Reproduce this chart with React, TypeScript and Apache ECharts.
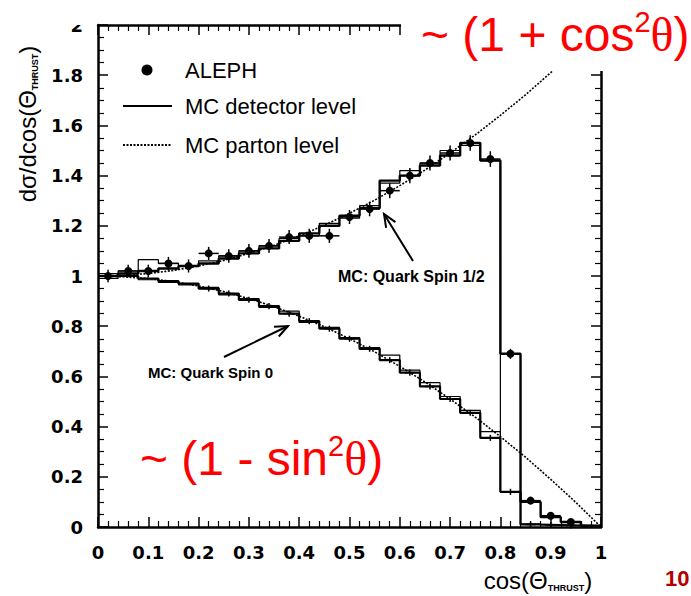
import React, { useEffect, useRef } from "react";
import * as echarts from "echarts";

// ---- data ----
const BIN_WIDTH = 0.04;

// MC detector level, quark spin 1/2 (thick step histogram), bins 0.00-0.04 ... 0.96-1.00
const UPPER_MC = [1.0, 1.01, 1.02, 1.03, 1.04, 1.05, 1.07, 1.09, 1.11, 1.14, 1.17, 1.2, 1.24, 1.27, 1.38, 1.4, 1.44, 1.48, 1.53, 1.46, 0.69, 0.1, 0.04, 0.02, 0.005];
// second (thin) spin 1/2 histogram
const UPPER_MC_THIN = [1.01, 1.02, 1.065, 1.05, 1.04, 1.06, 1.08, 1.1, 1.12, 1.15, 1.16, 1.21, 1.23, 1.28, 1.37, 1.42, 1.45, 1.5, 1.52, 1.46, 0.14, 0.012, 0.009, 0.006, 0.004];
// MC detector level, quark spin 0
const LOWER_MC = [1.0, 1.0, 0.99, 0.98, 0.97, 0.95, 0.93, 0.905, 0.88, 0.85, 0.82, 0.79, 0.75, 0.71, 0.665, 0.615, 0.56, 0.51, 0.455, 0.355, 0.14, 0.01, 0.008, 0.006, 0.004];
const LOWER_MC_THIN = [0.99, 1.0, 0.985, 0.975, 0.965, 0.955, 0.925, 0.91, 0.875, 0.86, 0.815, 0.795, 0.755, 0.715, 0.685, 0.625, 0.575, 0.52, 0.465, 0.38, 0.14, 0.012, 0.009, 0.006, 0.004];

// ALEPH data
const ALEPH_X = [0.02, 0.06, 0.1, 0.14, 0.18, 0.22, 0.26, 0.3, 0.34, 0.38, 0.42, 0.46, 0.5, 0.54, 0.58, 0.62, 0.66, 0.7, 0.74, 0.78, 0.82, 0.86, 0.9, 0.94];
const ALEPH_Y = [1.0, 1.02, 1.02, 1.05, 1.04, 1.09, 1.08, 1.1, 1.12, 1.155, 1.16, 1.16, 1.235, 1.267, 1.34, 1.4, 1.45, 1.49, 1.53, 1.466, 0.69, 0.105, 0.045, 0.02];
const ALEPH_ERR = [0.025, 0.025, 0.025, 0.026, 0.026, 0.026, 0.027, 0.027, 0.027, 0.028, 0.028, 0.028, 0.028, 0.029, 0.03, 0.03, 0.03, 0.03, 0.031, 0.031, 0.02, 0.012, 0.008, 0.006];

// MC spin 0 error crosses
const SPIN0_ERR = [0.012, 0.012, 0.012, 0.012, 0.012, 0.012, 0.012, 0.012, 0.012, 0.012, 0.012, 0.012, 0.012, 0.012, 0.012, 0.012, 0.012, 0.012, 0.012];

// MC parton level curves
const PARTON_X = [0, 0.05, 0.1, 0.15, 0.2, 0.25, 0.3, 0.35, 0.4, 0.45, 0.5, 0.55, 0.6, 0.65, 0.7, 0.75, 0.8, 0.85, 0.9, 0.95, 1.0];
const PARTON_SPIN_HALF = [1.0, 1.003, 1.01, 1.022, 1.04, 1.062, 1.09, 1.122, 1.16, 1.202, 1.25, 1.302, 1.36, 1.422, 1.49, 1.562, 1.64, 1.722, 1.81, 1.902, 2.0];
const PARTON_SPIN_ZERO = [1.0, 0.997, 0.99, 0.978, 0.96, 0.938, 0.91, 0.878, 0.84, 0.798, 0.75, 0.698, 0.64, 0.578, 0.51, 0.438, 0.36, 0.278, 0.19, 0.098, 0.0];

const FONT = "Liberation Sans, Arial, sans-serif";
const TICK_FONT = "DejaVu Sans, sans-serif";

function stepData(values: number[]) {
  const pts = values.map((v, i) => [+(i * BIN_WIDTH).toFixed(2), v]);
  pts.push([+(values.length * BIN_WIDTH).toFixed(2), values[values.length - 1]]);
  return pts;
}

function arrowHead(tx: number, ty: number, hx: number, hy: number, len: number, ang: number) {
  const a = Math.atan2(ty - hy, tx - hx);
  return [
    [hx + len * Math.cos(a + ang), hy + len * Math.sin(a + ang)],
    [hx, hy],
    [hx + len * Math.cos(a - ang), hy + len * Math.sin(a - ang)],
  ];
}

function crossRender(withDot: boolean, halfW: number) {
  return (params: any, api: any) => {
    const x = api.value(0);
    const y = api.value(1);
    const e = api.value(2);
    const c = api.coord([x, y]);
    const l = api.coord([x - halfW, y]);
    const r = api.coord([x + halfW, y]);
    const t = api.coord([x, y + e]);
    const b = api.coord([x, y - e]);
    const children: any[] = [
      { type: "line", shape: { x1: l[0], y1: l[1], x2: r[0], y2: r[1] }, style: { stroke: "#000", lineWidth: 1.5 } },
      { type: "line", shape: { x1: t[0], y1: t[1], x2: b[0], y2: b[1] }, style: { stroke: "#000", lineWidth: 1.5 } },
    ];
    if (withDot) children.push({ type: "circle", shape: { cx: c[0], cy: c[1], r: 4 }, style: { fill: "#000" } });
    return { type: "group", children };
  };
}

const redRich = {
  a: { fontSize: 48, fontFamily: FONT, fill: "#ff0000", lineHeight: 54 },
  b: { fontSize: 29, fontFamily: FONT, fill: "#ff0000", verticalAlign: "top", lineHeight: 54 },
  c: { fontSize: 48, fontFamily: "Liberation Serif, serif", fill: "#ff0000", lineHeight: 54 },
};

export default function App() {
  const ref = useRef<HTMLDivElement>(null);
  useEffect(() => {
    if (!ref.current) return;
    const chart = echarts.init(ref.current, undefined, { renderer: "svg" });

    const axisCommon = {
      type: "value" as const,
      min: 0,
      axisLine: { show: true, onZero: false, lineStyle: { color: "#000", width: 2.5 } },
      axisTick: { show: true, inside: true, length: 10, lineStyle: { color: "#000", width: 1.5 } },
      minorTick: { show: true, length: 6, lineStyle: { color: "#000", width: 1.2 } },
      splitLine: { show: false },
    };

    const a1 = arrowHead(413, 261, 384, 214, 14, 0.4);
    const a2 = arrowHead(224, 357, 288, 326, 14, 0.4);

    const option: any = {
      animation: false,
      backgroundColor: "#fff",
      grid: { left: 98, right: 90, top: 25, bottom: 69, containLabel: false },
      xAxis: [
        {
          ...axisCommon,
          max: 1,
          interval: 0.1,
          position: "bottom",
          minorTick: { ...axisCommon.minorTick, splitNumber: 5 },
          axisLabel: {
            color: "#000",
            fontFamily: TICK_FONT,
            fontWeight: "bold",
            fontSize: 18,
            margin: 16,
            formatter: (v: number) => String(Number(v.toFixed(1))),
          },
        },
        {
          ...axisCommon,
          max: 1,
          interval: 0.1,
          position: "top",
          minorTick: { ...axisCommon.minorTick, splitNumber: 5 },
          axisLabel: { show: false },
        },
      ],
      yAxis: [
        {
          ...axisCommon,
          max: 2,
          interval: 0.2,
          position: "left",
          minorTick: { ...axisCommon.minorTick, splitNumber: 4 },
          axisLabel: {
            color: "#000",
            fontFamily: TICK_FONT,
            fontWeight: "bold",
            fontSize: 18,
            margin: 15,
            formatter: (v: number) => String(Number(v.toFixed(1))),
          },
        },
        {
          ...axisCommon,
          max: 2,
          interval: 0.2,
          position: "right",
          minorTick: { ...axisCommon.minorTick, splitNumber: 4 },
          axisLabel: { show: false },
        },
      ],
      series: [
        {
          name: "MC parton level (spin 1/2)",
          type: "line",
          data: PARTON_X.map((x, i) => [x, PARTON_SPIN_HALF[i]]),
          showSymbol: false,
          lineStyle: { color: "#000", width: 1.6, type: [2, 1.5] },
          z: 2,
        },
        {
          name: "MC parton level (spin 0)",
          type: "line",
          data: PARTON_X.map((x, i) => [x, PARTON_SPIN_ZERO[i]]),
          showSymbol: false,
          lineStyle: { color: "#000", width: 1.6, type: [2, 1.5] },
          z: 2,
        },
        {
          name: "MC thin spin 1/2",
          type: "line",
          step: "end",
          data: stepData(UPPER_MC_THIN),
          showSymbol: false,
          lineStyle: { color: "#000", width: 1.2 },
          z: 3,
        },
        {
          name: "MC thin spin 0",
          type: "line",
          step: "end",
          data: stepData(LOWER_MC_THIN),
          showSymbol: false,
          lineStyle: { color: "#000", width: 1.2 },
          z: 3,
        },
        {
          name: "MC detector level (spin 1/2)",
          type: "line",
          step: "end",
          data: stepData(UPPER_MC),
          showSymbol: false,
          lineStyle: { color: "#000", width: 2.4 },
          z: 4,
        },
        {
          name: "MC detector level (spin 0)",
          type: "line",
          step: "end",
          data: stepData(LOWER_MC),
          showSymbol: false,
          lineStyle: { color: "#000", width: 2.2 },
          z: 4,
        },
        {
          name: "MC spin 0 errors",
          type: "custom",
          renderItem: crossRender(false, 0.01),
          data: SPIN0_ERR.map((e, i) => [(i + 0.5) * BIN_WIDTH + 0.2, LOWER_MC[i + 5], e]),
          z: 5,
        },
        {
          name: "ALEPH",
          type: "custom",
          renderItem: crossRender(true, 0.02),
          data: ALEPH_X.map((x, i) => [x, ALEPH_Y[i], ALEPH_ERR[i]]),
          z: 6,
        },
      ],
      graphic: [
        // legend
        { type: "circle", shape: { cx: 147, cy: 70, r: 5.5 }, style: { fill: "#000" }, z: 50 },
        { type: "text", x: 185, y: 70, style: { text: "ALEPH", font: `22px ${FONT}`, fill: "#000", verticalAlign: "middle" }, z: 50 },
        { type: "line", shape: { x1: 123, y1: 106, x2: 172, y2: 106 }, style: { stroke: "#000", lineWidth: 2 }, z: 50 },
        { type: "text", x: 185, y: 106, style: { text: "MC detector level", font: `22px ${FONT}`, fill: "#000", verticalAlign: "middle" }, z: 50 },
        { type: "line", shape: { x1: 123, y1: 145, x2: 172, y2: 145 }, style: { stroke: "#000", lineWidth: 2, lineDash: [2, 1.5] }, z: 50 },
        { type: "text", x: 185, y: 145, style: { text: "MC parton level", font: `22px ${FONT}`, fill: "#000", verticalAlign: "middle" }, z: 50 },
        // annotations
        { type: "text", x: 338, y: 276, style: { text: "MC: Quark Spin 1/2", font: `bold 16px ${FONT}`, fill: "#000", verticalAlign: "middle" }, z: 50 },
        { type: "line", shape: { x1: 413, y1: 261, x2: 384, y2: 214 }, style: { stroke: "#000", lineWidth: 2 }, z: 50 },
        { type: "polyline", shape: { points: a1 }, style: { stroke: "#000", lineWidth: 2, fill: null }, z: 50 },
        { type: "text", x: 148, y: 372, style: { text: "MC: Quark Spin 0", font: `bold 15px ${FONT}`, fill: "#000", verticalAlign: "middle" }, z: 50 },
        { type: "line", shape: { x1: 224, y1: 357, x2: 288, y2: 326 }, style: { stroke: "#000", lineWidth: 2 }, z: 50 },
        { type: "polyline", shape: { points: a2 }, style: { stroke: "#000", lineWidth: 2, fill: null }, z: 50 },
        // axis titles
        {
          type: "text",
          x: 27,
          y: 124,
          rotation: Math.PI / 2,
          style: {
            text: "{a|dσ/dcos(Θ}{s|THRUST}{a|)}",
            align: "center",
            verticalAlign: "middle",
            fill: "#000",
            rich: {
              a: { fontSize: 24, fontFamily: FONT, fill: "#000" },
              s: { fontSize: 9, fontWeight: "bold", fontFamily: FONT, fill: "#000", verticalAlign: "bottom", padding: [12, 0, 0, 0] },
            },
          },
          z: 50,
        },
        {
          type: "text",
          x: 538,
          y: 580,
          style: {
            text: "{a|cos(Θ}{s|THRUST}{a|)}",
            align: "center",
            verticalAlign: "middle",
            fill: "#000",
            rich: {
              a: { fontSize: 24, fontFamily: FONT, fill: "#000" },
              s: { fontSize: 9, fontWeight: "bold", fontFamily: FONT, fill: "#000", verticalAlign: "bottom", padding: [12, 0, 0, 0] },
            },
          },
          z: 50,
        },
        // white cover top-left of "2" label and top-right red text box
        { type: "rect", shape: { x: 30, y: 0, width: 66, height: 25 }, style: { fill: "#fff" }, z: 60 },
        { type: "rect", shape: { x: 401, y: 0, width: 290, height: 71 }, style: { fill: "#fff" }, z: 60 },
        {
          type: "text",
          x: 421,
          y: 34,
          style: { text: "{a|~ (1 + cos}{b|2}{c|θ}{a|)}", verticalAlign: "middle", fill: "#ff0000", rich: redRich },
          z: 70,
        },
        {
          type: "text",
          x: 140,
          y: 458,
          style: { text: "{a|~ (1 - sin}{b|2}{c|θ}{a|)}", verticalAlign: "middle", fill: "#ff0000", rich: redRich },
          z: 70,
        },
        {
          type: "text",
          x: 665,
          y: 589,
          style: { text: "10", font: `bold 22px ${FONT}`, fill: "#b40000", verticalAlign: "bottom" },
          z: 70,
        },
      ],
    };
    chart.setOption(option);
    return () => chart.dispose();
  }, []);

  return <div ref={ref} style={{ position: "fixed", left: 0, top: 0, width: 691, height: 596 }} />;
}
